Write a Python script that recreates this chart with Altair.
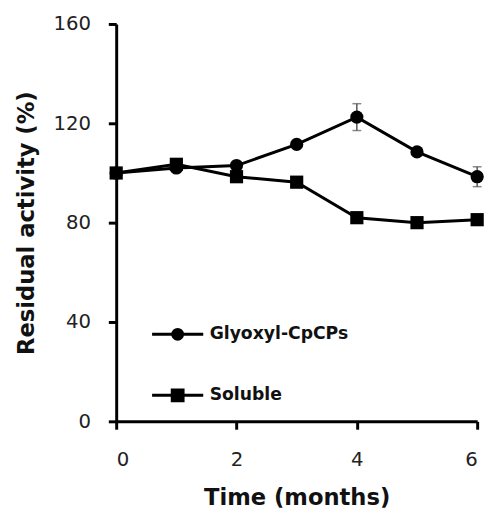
import altair as alt
import pandas as pd

months = [0, 1, 2, 3, 4, 5, 6]
glyoxyl = [100, 102, 103, 111.5, 122.5, 108.5, 98.5]
glyoxyl_err = [1, 1, 1, 1, 5.4, 1, 4]
soluble = [100, 103.5, 98.5, 96.3, 82, 80, 81.2]
soluble_err = [1, 1, 1, 1, 1, 1, 1]
series_names = ["Glyoxyl-CpCPs", "Soluble"]

rows = []
for m, v, e in zip(months, glyoxyl, glyoxyl_err):
    rows.append({"month": m, "value": v, "lo": v - e, "hi": v + e, "series": series_names[0]})
for m, v, e in zip(months, soluble, soluble_err):
    rows.append({"month": m, "value": v, "lo": v - e, "hi": v + e, "series": series_names[1]})
df = pd.DataFrame(rows)

FONT = "DejaVu Sans"

x = alt.X("month:Q", scale=alt.Scale(domain=[0, 6], nice=False),
          axis=alt.Axis(values=[0, 2, 4, 6], format="d", title="Time (months)", grid=False,
                        titleX=183.5, titleY=85, titleBaseline="alphabetic",
                        labelPadding=21))
y = alt.Y("value:Q", scale=alt.Scale(domain=[0, 160], nice=False),
          axis=alt.Axis(values=[0, 40, 80, 120, 160], format="d", title="Residual activity (%)", grid=False,
                        titleX=-84, titleY=202, titleBaseline="alphabetic", titleAngle=-90,
                        labelPadding=18))

base = alt.Chart(df)

err_rule = base.mark_rule(color="#555555", strokeWidth=1.5).encode(
    x=x, y=alt.Y("lo:Q"), y2="hi:Q")
err_lo = base.mark_tick(color="#555555", orient="horizontal", size=9, thickness=1.5).encode(
    x="month:Q", y="lo:Q")
err_hi = base.mark_tick(color="#555555", orient="horizontal", size=9, thickness=1.5).encode(
    x="month:Q", y="hi:Q")

lines = base.mark_line(color="black", strokeWidth=3).encode(
    x=x, y=y, detail="series:N")

points = base.mark_point(filled=True, color="black", opacity=1, size=180).encode(
    x="month:Q", y="value:Q",
    shape=alt.Shape("series:N", scale=alt.Scale(domain=series_names, range=["circle", "square"]),
                    legend=None))


def ring(r):
    return f"M{-r},0A{r},{r},0,1,0,{r},0A{r},{r},0,1,0,{-r},0Z"


def box(h):
    return f"M{-h},{-h}H{h}V{h}H{-h}Z"


circle_sym = "M-1,0H1" + "".join(ring(r) for r in (0.192, 0.096, 0.02))
square_sym = "M-1,0H1" + "".join(box(h) for h in (0.212, 0.115, 0.02))

legend_layer = base.mark_point(filled=False, color="black", strokeWidth=3,
                               opacity=0).encode(
    x="month:Q", y="value:Q",
    shape=alt.Shape("series:N",
                    scale=alt.Scale(domain=series_names, range=[circle_sym, square_sym]),
                    legend=alt.Legend(title=None, orient="none", legendX=35, legendY=288,
                                      symbolSize=2704, symbolOpacity=1,
                                      symbolStrokeColor="black",
                                      symbolStrokeWidth=3, labelFont=FONT, labelFontSize=17.5,
                                      labelFontWeight="bold", labelColor="#111111",
                                      labelOffset=5, rowPadding=23, padding=0)))

chart = alt.layer(err_rule, err_lo, err_hi, lines, points, legend_layer).resolve_scale(
    shape="independent"
).properties(
    width=367, height=404,
    autosize=alt.AutoSizeParams(type="none"),
    padding={"left": 110, "top": 12, "right": 10, "bottom": 92},
).configure_view(stroke=None).configure_axis(
    domainColor="black", domainWidth=3, tickColor="black", tickWidth=3, tickSize=8,
    labelFont=FONT, labelFontSize=20, labelColor="#222222",
    titleFont=FONT, titleFontSize=23, titleFontWeight="bold", titleColor="#111111",
)

chart.save("out.html", embed_options={"renderer": "svg", "actions": False})
